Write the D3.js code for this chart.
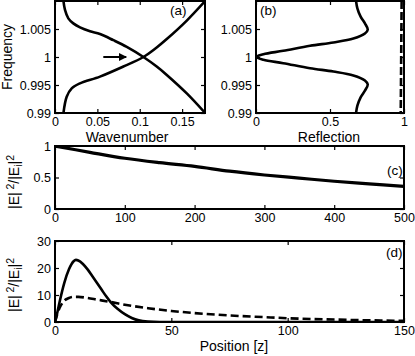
<!DOCTYPE html>
<html><head><meta charset="utf-8">
<script src="https://cdn.jsdelivr.net/npm/d3@7"></script>
<style>body{margin:0;background:#fff}svg{display:block}</style>
</head><body><svg id="chart" width="415" height="356"></svg>
<script>
// ---------- data ----------
// (a) dispersion branches: [wavenumber, frequency]
const aBranchDown = [[0.0098,1.0102],[0.0118,1.0084],[0.0157,1.0069],[0.0216,1.0060],[0.0295,1.0053],[0.0413,1.0046],[0.0531,1.0041],[0.0689,1.0030],[0.0847,1.0018],[0.1043,1.0000],[0.1200,0.9983],[0.1319,0.9968],[0.1555,0.9935],[0.1772,0.9900]];
const aBranchUp = [[0.0098,0.9898],[0.0138,0.9929],[0.0197,0.9944],[0.0295,0.9953],[0.0531,0.9965],[0.0807,0.9983],[0.1043,1.0000],[0.1200,1.0017],[0.1319,1.0032],[0.1555,1.0065],[0.1772,1.0100]];
// (b) reflection vs frequency: [reflection, frequency]
const bSolid = [[0.676,1.0100],[0.685,1.0087],[0.707,1.0072],[0.736,1.0060],[0.755,1.0049],[0.736,1.0042],[0.658,1.0033],[0.523,1.0026],[0.365,1.0020],[0.184,1.0011],[0.050,1.0005],[0.000,1.0000],[0.050,0.9995],[0.184,0.9989],[0.365,0.9980],[0.523,0.9974],[0.658,0.9967],[0.736,0.9958],[0.755,0.9951],[0.736,0.9940],[0.707,0.9928],[0.685,0.9913],[0.676,0.9900]];
const bDashed = [[0.984,1.0100],[0.981,1.0000],[0.978,0.9900]];
// (c) intensity vs position
const cPos = [0,50,100,150,200,250,300,350,400,450,500];
const cVal = [1,0.9,0.805,0.735,0.676,0.6,0.54,0.49,0.44,0.4,0.36];
// (d) intensity vs position
const dSolidPos = [0,1,2,4,6,8,9,10,12,14,16,18,20,22,24,27,30,33,36,40,45,50,150];
const dSolidVal = [0,3.5,7.5,14.5,19.5,22.5,23,22.8,21.5,19.5,17,14.5,12,9.5,7.3,4.8,2.9,1.5,0.6,0.15,0,0,0];
const dDashPos = [0,1,2,3,4,6,8,10,14,18,24,30,40,50,60,70,80,90,100,110,120,130,140,150];
const dDashVal = [0,3,5.3,6.8,7.9,8.9,9.3,9.3,8.9,8.3,7.4,6.4,5.1,4.1,3.3,2.7,2.2,1.8,1.4,1.1,0.9,0.7,0.55,0.45];
// ticks
const aXTicks = [0,0.05,0.1,0.15];
const abYTicks = [0.99,0.995,1,1.005];
const bXTicks = [0,0.5,1];
const cXTicks = [0,100,200,300,400,500];
const cYTicks = [0,0.5,1];
const dXTicks = [0,50,100,150];
const dYTicks = [0,10,20,30];

// ---------- drawing ----------
const FONT = "'Liberation Sans', Arial, sans-serif";
const svg = d3.select("#chart");
let clipId = 0;

function panel(o){
  const x = d3.scaleLinear().domain(o.xDom).range([o.x0,o.x1]);
  const y = d3.scaleLinear().domain(o.yDom).range([o.y1,o.y0]);
  const g = svg.append("g");
  const fmt = d => String(d);
  const style = sel => {
    sel.select(".domain").remove();
    sel.selectAll(".tick line").attr("stroke","#000").attr("stroke-width",1.2);
    sel.selectAll("text").attr("font-family",FONT).attr("font-size",12.5).attr("fill","#000");
  };
  g.append("g").attr("transform",`translate(0,${o.y1})`)
    .call(d3.axisBottom(x).tickValues(o.xTicks).tickFormat(fmt).tickSizeInner(-4).tickSizeOuter(0).tickPadding(4)).call(style);
  g.append("g").attr("transform",`translate(0,${o.y0})`)
    .call(d3.axisTop(x).tickValues(o.xTicks).tickFormat(()=>"").tickSizeInner(-4).tickSizeOuter(0)).call(style);
  g.append("g").attr("transform",`translate(${o.x0},0)`)
    .call(d3.axisLeft(y).tickValues(o.yTicks).tickFormat(fmt).tickSizeInner(-4).tickSizeOuter(0).tickPadding(4)).call(style);
  g.append("g").attr("transform",`translate(${o.x1},0)`)
    .call(d3.axisRight(y).tickValues(o.yTicks).tickFormat(()=>"").tickSizeInner(-4).tickSizeOuter(0)).call(style);
  const id = "clip"+(clipId++);
  svg.append("clipPath").attr("id",id).append("rect")
    .attr("x",o.x0).attr("y",o.y0).attr("width",o.x1-o.x0).attr("height",o.y1-o.y0);
  const plot = g.append("g").attr("clip-path",`url(#${id})`);
  g.append("rect").attr("x",o.x0).attr("y",o.y0).attr("width",o.x1-o.x0).attr("height",o.y1-o.y0)
    .attr("fill","none").attr("stroke","#000").attr("stroke-width",2);
  g.append("text").attr("x",o.lx).attr("y",o.ly).attr("font-family",FONT).attr("font-size",13.5).text(o.label);
  return {x,y,g,plot};
}

function drawLine(p, pts, opts={}){
  const line = d3.line().x(d=>p.x(d[0])).y(d=>p.y(d[1])).curve(opts.curve||d3.curveCatmullRom);
  p.plot.append("path").attr("d",line(pts)).attr("fill","none").attr("stroke","#000")
    .attr("stroke-width",opts.w||2.6).attr("stroke-dasharray",opts.dash||null)
    .attr("stroke-linejoin","round");
}

// panel (a)
const pa = panel({x0:55,x1:205,y0:1,y1:113,xDom:[0,0.177],yDom:[0.99,1.01],xTicks:aXTicks,yTicks:abYTicks,label:"(a)",lx:170,ly:15});
drawLine(pa, aBranchDown);
drawLine(pa, aBranchUp);
// arrow
svg.append("defs").append("marker").attr("id","ah").attr("viewBox","0 0 10 10").attr("refX",9).attr("refY",5)
  .attr("markerWidth",4.5).attr("markerHeight",4).attr("orient","auto")
  .append("path").attr("d","M0,0L10,5L0,10z").attr("fill","#000");
pa.g.append("line").attr("x1",pa.x(0.057)).attr("x2",pa.x(0.084)).attr("y1",pa.y(1)).attr("y2",pa.y(1))
  .attr("stroke","#000").attr("stroke-width",2).attr("marker-end","url(#ah)");

// panel (b)
const pb = panel({x0:256,x1:404,y0:1,y1:113,xDom:[0,1],yDom:[0.99,1.01],xTicks:bXTicks,yTicks:abYTicks,label:"(b)",lx:260,ly:15});
drawLine(pb, bSolid);
drawLine(pb, bDashed, {dash:"8,3", curve:d3.curveLinear});

// panel (c)
const pc = panel({x0:55,x1:404,y0:146,y1:209,xDom:[0,500],yDom:[0,1],xTicks:cXTicks,yTicks:cYTicks,label:"(c)",lx:387,ly:175});
drawLine(pc, cPos.map((z,i)=>[z,cVal[i]]), {w:3.2});

// panel (d)
const pd = panel({x0:55,x1:404,y0:241,y1:322,xDom:[0,150],yDom:[0,30],xTicks:dXTicks,yTicks:dYTicks,label:"(d)",lx:386,ly:257});
drawLine(pd, dSolidPos.map((z,i)=>[z,dSolidVal[i]]), {curve:d3.curveMonotoneX});
drawLine(pd, dDashPos.map((z,i)=>[z,dDashVal[i]]), {dash:"8,4", curve:d3.curveMonotoneX});

// axis titles
function title(txt,x,y){
  svg.append("text").attr("x",x).attr("y",y).attr("text-anchor","middle")
    .attr("font-family",FONT).attr("font-size",14).text(txt);
}
title("Wavenumber",127,142);
title("Reflection",329,142);
title("Position [z]",234,351);
svg.append("text").attr("transform","translate(12,57) rotate(-90)").attr("text-anchor","middle")
  .attr("font-family",FONT).attr("font-size",14).text("Frequency");

function ylab(cx,cy){
  const t = svg.append("text").attr("transform",`translate(${cx},${cy}) rotate(-90)`).attr("text-anchor","middle")
    .attr("font-family",FONT).attr("font-size",14);
  t.append("tspan").text("|E|\u2009");
  t.append("tspan").attr("dy",-5).attr("font-size",10.5).text("2");
  t.append("tspan").attr("dy",5).text("/|E");
  t.append("tspan").attr("dy",3).attr("font-size",10.5).text("i");
  t.append("tspan").attr("dy",-3).text("|");
  t.append("tspan").attr("dy",-5).attr("font-size",10.5).text("2");
}
ylab(19,182);
ylab(19,285);
</script>
</body></html>
